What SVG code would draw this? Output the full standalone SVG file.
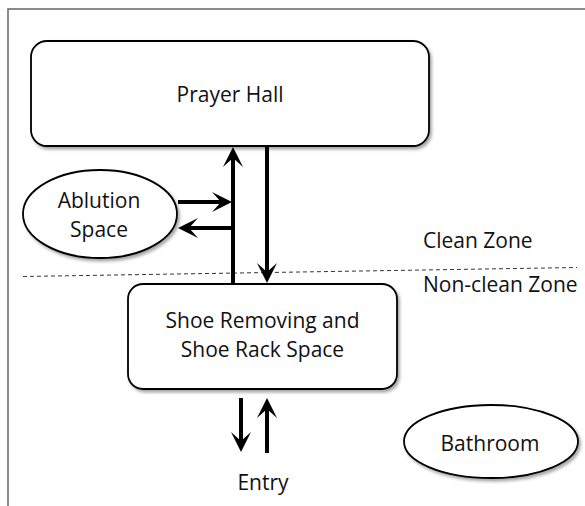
<svg xmlns="http://www.w3.org/2000/svg" width="585" height="506" viewBox="0 0 585 506">
<defs>
<style>
.node{fill:#fff;stroke:#000;stroke-width:1.8;filter:url(#sh)}
.lbl{font-family:"Open Sans","Liberation Sans",sans-serif;font-size:21px;fill:#111;text-anchor:middle}
.zone{font-family:"Open Sans","Liberation Sans",sans-serif;font-size:21px;fill:#111}
.arr{fill:none;stroke:#000;stroke-width:4;marker-end:url(#ah)}
</style>
<filter id="sh" x="-10%" y="-10%" width="125%" height="130%">
<feDropShadow dx="2" dy="2.5" stdDeviation="1.5" flood-color="#000" flood-opacity="0.35"/>
</filter>
<marker id="ah" markerUnits="userSpaceOnUse" viewBox="-21 -11 22 22" markerWidth="22" markerHeight="22" refX="-10" refY="0" orient="auto" overflow="visible">
<path d="M0,0 L-20,-10 L-11,0 L-20,10 Z" fill="#000"/>
</marker>
</defs>
<rect width="585" height="506" fill="#fff"/>
<g id="frame" stroke="#666" stroke-width="1.5" fill="none">
<path d="M8,506 V9 H585"/>
</g>
<line id="zone-divider" x1="23" y1="276.5" x2="577" y2="267.5" stroke="#333" stroke-width="1" stroke-dasharray="4 3"/>
<g id="prayer-hall">
<rect class="node" x="31" y="41" width="398" height="105" rx="16"/>
<text class="lbl" x="230" y="102">Prayer Hall</text>
</g>
<g id="ablution">
<ellipse class="node" cx="100" cy="214" rx="77" ry="44"/>
<text class="lbl" x="99" y="208">Ablution</text>
<text class="lbl" x="99" y="237">Space</text>
</g>
<g id="shoe">
<rect class="node" x="128" y="284" width="269" height="105" rx="15"/>
<text class="lbl" x="262.5" y="328">Shoe Removing and</text>
<text class="lbl" x="262.5" y="357">Shoe Rack Space</text>
</g>
<g id="bathroom">
<ellipse class="node" cx="491" cy="441.5" rx="87" ry="36.5"/>
<text class="lbl" x="490" y="451">Bathroom</text>
</g>
<g id="labels">
<text class="zone" x="423" y="248">Clean Zone</text>
<text class="zone" x="423" y="292">Non-clean Zone</text>
<text class="lbl" x="263" y="490">Entry</text>
</g>
<g id="connectors">
<path class="arr" d="M233,285 V157"/>
<path class="arr" d="M267,146 V273"/>
<path class="arr" d="M178,202 H222"/>
<path class="arr" d="M233,228 H188"/>
<path class="arr" d="M241,398 V442"/>
<path class="arr" d="M267,453 V408"/>
</g>
</svg>
